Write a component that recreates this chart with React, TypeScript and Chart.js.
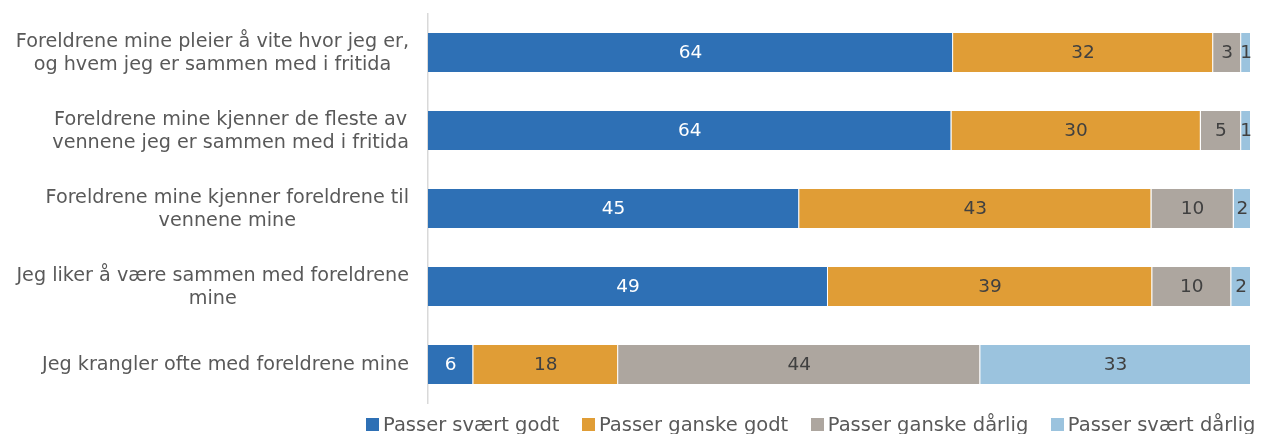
import React, { useEffect, useRef } from "react";
import { Chart, registerables } from "chart.js";

Chart.register(...registerables);

// Category labels (each line of a label as its own string)
const categoryLines: string[][] = [
  ["Foreldrene mine pleier å vite hvor jeg er,", "og hvem jeg er sammen med i fritida"],
  ["Foreldrene mine kjenner de fleste av", "vennene jeg er sammen med i fritida"],
  ["Foreldrene mine kjenner foreldrene til", "vennene mine"],
  ["Jeg liker å være sammen med foreldrene", "mine"],
  ["Jeg krangler ofte med foreldrene mine"],
];

const seriesNames = [
  "Passer svært godt",
  "Passer ganske godt",
  "Passer ganske dårlig",
  "Passer svært dårlig",
];

// Percent values per series
const svaertGodt = [63.8, 63.6, 45.1, 48.6, 5.5];
const ganskeGodt = [31.6, 30.3, 42.8, 39.4, 17.6];
const ganskeDarlig = [3.4, 4.9, 10.0, 9.6, 44.0];
const svaertDarlig = [1.2, 1.2, 2.1, 2.4, 32.9];

const seriesValues = [svaertGodt, ganskeGodt, ganskeDarlig, svaertDarlig];
const seriesColors = ["#2E70B5", "#E09D36", "#ADA69F", "#9BC3DE"];
const labelColors = ["#FFFFFF", "#404040", "#404040", "#404040"];

const FONT = '"DejaVu Sans", sans-serif';

export default function App() {
  const ref = useRef<HTMLCanvasElement>(null);

  useEffect(() => {
    if (!ref.current) return;

    const valueLabels = {
      id: "valueLabels",
      afterDatasetsDraw(chart: any) {
        const ctx = chart.ctx;
        ctx.save();
        ctx.font = `18.5px ${FONT}`;
        ctx.textAlign = "center";
        ctx.textBaseline = "middle";
        chart.data.datasets.forEach((ds: any, di: number) => {
          const meta = chart.getDatasetMeta(di);
          meta.data.forEach((el: any, i: number) => {
            const v = ds.data[i];
            const p = el.getProps(["x", "y", "base"], true);
            ctx.fillStyle = labelColors[di];
            ctx.fillText(String(Math.round(v)), (p.x + p.base) / 2, p.y + 1);
          });
        });
        ctx.restore();
      },
    };

    const categoryLabels = {
      id: "categoryLabels",
      afterDraw(chart: any) {
        const ctx = chart.ctx;
        const yScale = chart.scales.y;
        ctx.save();
        ctx.font = `19.2px ${FONT}`;
        ctx.textAlign = "center";
        ctx.textBaseline = "middle";
        ctx.fillStyle = "#595959";
        const lh = 23.5;
        categoryLines.forEach((lines, i) => {
          const yc = yScale.getPixelForValue(i);
          const widest = Math.max(...lines.map((l) => ctx.measureText(l).width));
          const cx = yScale.right - 19 - widest / 2;
          lines.forEach((line, k) => {
            ctx.fillText(line, cx, yc + 1 + (k - (lines.length - 1) / 2) * lh);
          });
        });
        ctx.restore();
      },
    };

    const chart = new Chart(ref.current, {
      type: "bar",
      data: {
        labels: categoryLines.map((l) => l.join(" ")),
        datasets: seriesNames.map((name, i) => ({
          label: name,
          data: seriesValues[i],
          backgroundColor: seriesColors[i],
          borderColor: "#FFFFFF",
          borderWidth: { top: 0, bottom: 0, left: 0, right: 1 },
          borderSkipped: false,
          categoryPercentage: 1,
          barPercentage: 0.5,
        })),
      },
      options: {
        indexAxis: "y",
        animation: false,
        responsive: true,
        maintainAspectRatio: false,
        layout: { padding: { top: 13.5, right: 10, bottom: 30.5, left: 0 } },
        plugins: {
          legend: { display: false },
          tooltip: { enabled: false },
        },
        scales: {
          x: {
            stacked: true,
            min: 0,
            max: 100,
            display: false,
          },
          y: {
            stacked: true,
            grid: { display: false, drawTicks: false },
            border: { display: true, color: "#D9D9D9", width: 1.5 },
            ticks: { display: false },
            afterFit: (s: any) => {
              s.width = 428;
            },
          },
        },
      },
      plugins: [valueLabels, categoryLabels],
    } as any);

    return () => chart.destroy();
  }, []);

  return (
    <div
      style={{
        position: "fixed",
        left: 0,
        top: 0,
        width: 1261,
        height: 434,
        overflow: "hidden",
        background: "#FFFFFF",
      }}
    >
      <div style={{ position: "absolute", left: 0, top: 0, width: 1261, height: 434 }}>
        <canvas ref={ref} />
      </div>
      <div
        style={{
          position: "absolute",
          left: 366,
          top: 413.4,
          display: "flex",
          alignItems: "center",
          whiteSpace: "nowrap",
          fontFamily: FONT,
          fontSize: 19.5,
          color: "#595959",
        }}
      >
        {seriesNames.map((name, i) => (
          <div key={name} style={{ display: "flex", alignItems: "center", marginRight: 22.5 }}>
            <span
              style={{
                display: "inline-block",
                width: 13,
                height: 13,
                background: seriesColors[i],
                marginRight: 4,
              }}
            />
            <span>{name}</span>
          </div>
        ))}
      </div>
    </div>
  );
}
